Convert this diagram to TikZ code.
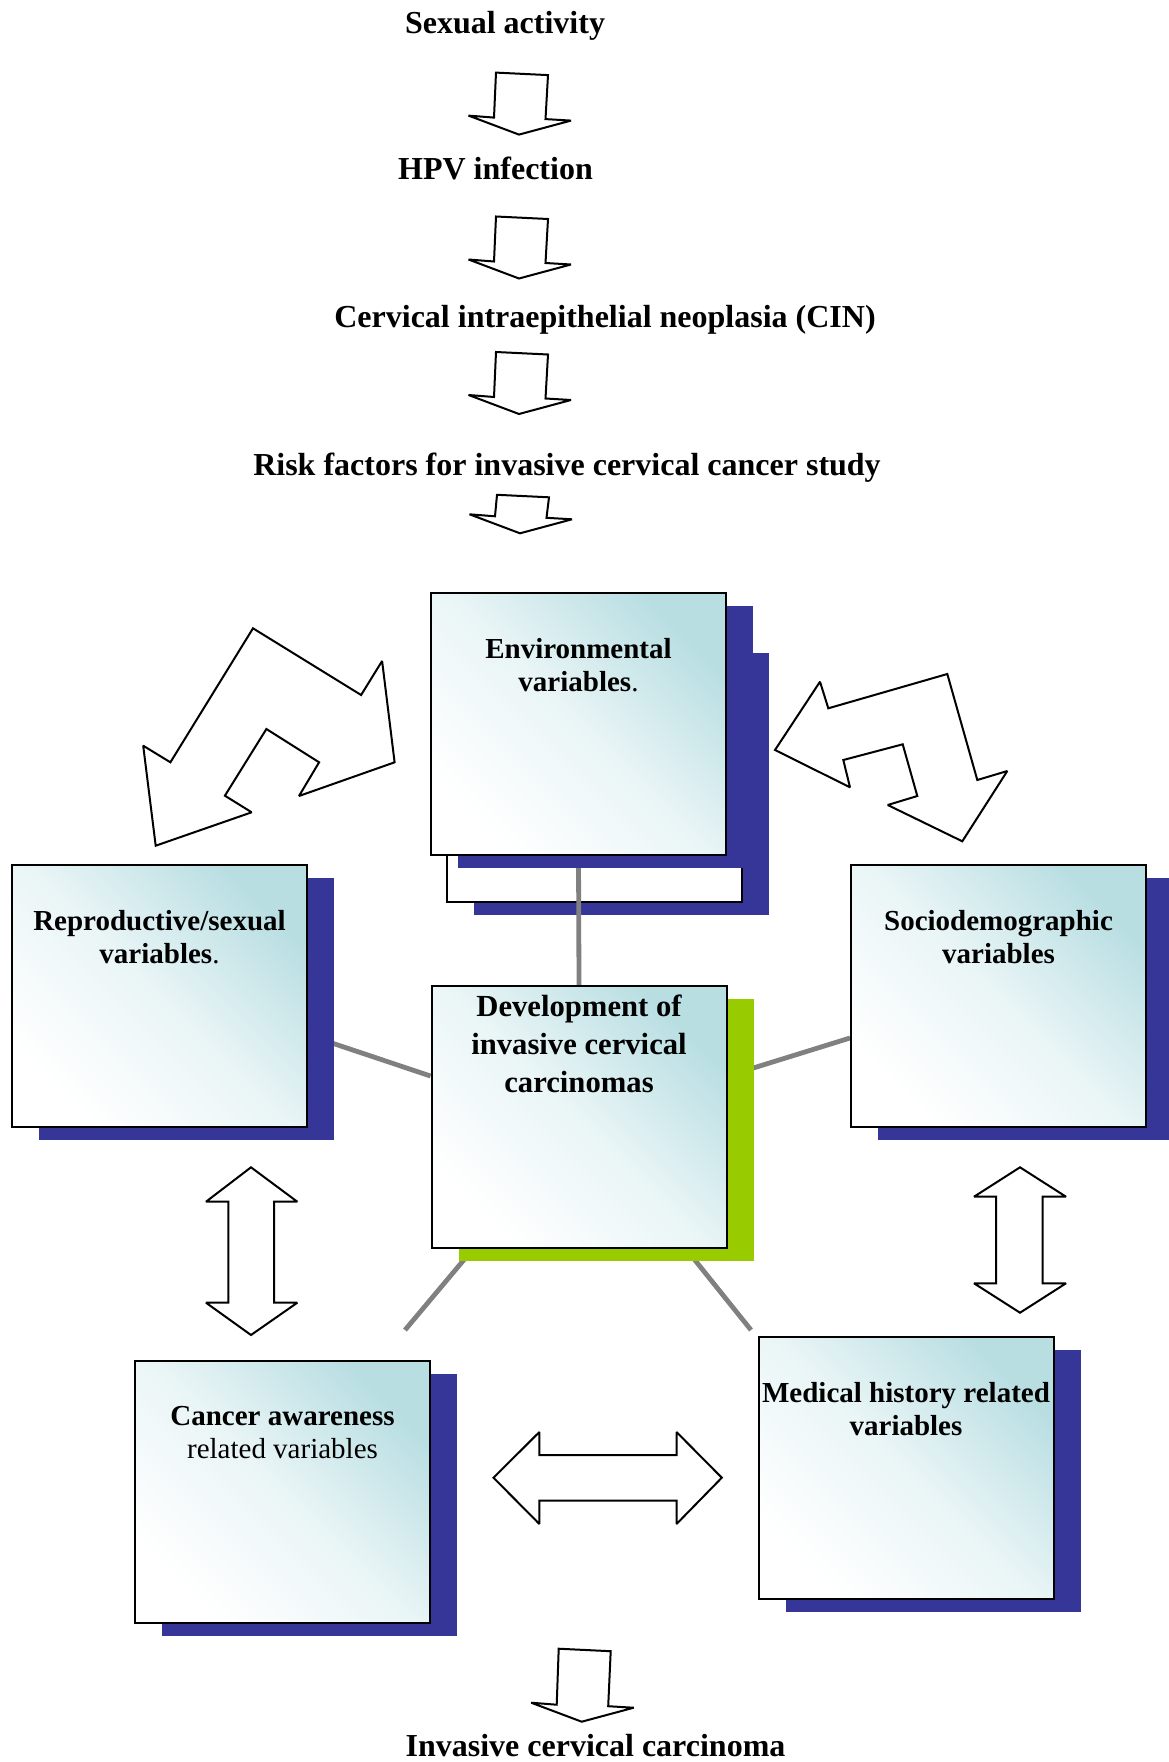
\documentclass[tikz,border=0pt]{standalone}
\usepackage{fontspec}
\setmainfont{Liberation Serif}
\usetikzlibrary{positioning,calc,shadows,backgrounds}

\definecolor{shadowblue}{RGB}{54,54,153}
\definecolor{shadowgreen}{RGB}{153,204,0}
\definecolor{boxteal}{RGB}{184,222,226}
\definecolor{linkgray}{RGB}{128,128,128}

% hollow down arrow: tip x, tip y, shaft length
\newcommand{\flowarrow}[3]{%
  \draw[blockarrow, shift={(#1,#2)}] (-50.5,-19) -- (-25,-17) -- (-23,-#3)
    -- (29,-#3+2.5) -- (26.5,-15.5) -- (52,-14) -- (0,0) -- cycle;}

\tikzset{
  title/.style={font=\fontsize{24}{28}\selectfont\bfseries, anchor=base, inner sep=0pt},
  blockarrow/.style={draw=black, fill=white, line width=1.5pt, line join=miter, miter limit=1.6},
  varbox/.style={draw=black, line width=1.5pt, anchor=north west, inner sep=0pt,
    minimum width=221.25pt, minimum height=196.5pt,
    top color=boxteal, bottom color=white, middle color=boxteal!30!white,
    shading angle=-45,
    drop shadow={shadow xshift=20.25pt, shadow yshift=-9.75pt, fill=#1, opacity=1}},
  varbox/.default=shadowblue,
  vartext/.style={font=\fontsize{21.75}{24.75}\selectfont\bfseries, align=center,
    anchor=north, inner sep=0pt},
  link/.style={draw=linkgray, line width=3.6pt},
}

\begin{document}
\begin{tikzpicture}[x=0.75pt, y=-0.75pt]
\useasboundingbox (0,0) rectangle (1168,1762);

% the chain of events
\node[title] (sexual) at (505,34) {Sexual activity};
\node[title] (hpv) at (495.5,179.5) {HPV infection};
\node[title] (cin) at (605,327) {Cervical intraepithelial neoplasia (CIN)};
\node[title] (risk) at (567,475) {Risk factors for invasive cervical cancer study};
\node[title] (invasive) at (595.5,1756) {Invasive cervical carcinoma};

\flowarrow{519}{134.6}{62}
\flowarrow{519}{278.5}{62}
\flowarrow{519}{414}{62}
\flowarrow{520}{533.3}{38.5}
\flowarrow{581.7}{1721.7}{73}

% the groups of variables
\node[varbox] (env) at (430,592) {};
\node[varbox] (repro) at (11,864) {};
\node[varbox] (socio) at (850,864) {};
\node[varbox=shadowgreen] (dev) at (430.5,985) {};
\node[varbox] (aware) at (134,1360) {};
\node[varbox] (history) at (757.5,1336) {};

\node[vartext] (envlbl) at ([yshift=-34.5pt]env.north) {Environmental\\variables\textmd{.}};
\node[vartext] (reprolbl) at ([yshift=-34.5pt]repro.north) {Reproductive/sexual\\variables\textmd{.}};
\node[vartext] (sociolbl) at ([yshift=-34.5pt]socio.north) {Sociodemographic\\variables};
\node[vartext, font=\fontsize{23}{28.3}\selectfont\bfseries] (devlbl)
  at ([yshift=-7.5pt]dev.north) {Development of\\invasive cervical\\carcinomas};
\node[vartext] (awarelbl) at ([yshift=-34.5pt]aware.north) {Cancer awareness\\\textmd{related variables}};
\node[vartext] (historylbl) at ([yshift=-34.5pt]history.north) {Medical history related\\variables};

\coordinate (toaware) at (405,1330);
\coordinate (tohistory) at (751,1330);

\begin{scope}[on background layer]
  \node[varbox, top color=white, bottom color=white, middle color=white] (envback) at (446,639) {};
  \draw[link] (env.south) -- (dev.north);
  \draw[link] ($(repro.east)+(0,39)$) -- ($(dev.west)+(0,-41)$);
  \draw[link] ($(dev.east)+(0,-41)$) -- ($(socio.west)+(0,42)$);
  \draw[link] ($(dev.south)+(-106,0)$) -- (toaware);
  \draw[link] ($(dev.south)+(107,0)$) -- (tohistory);
\end{scope}

% two-way arrows between the groups
\draw[blockarrow] (253,628.3) -- (361.1,695) -- (382.1,661) -- (394.6,762.3) -- (299,796)
  -- (319.1,762.3) -- (266.4,729) -- (224.9,795.7) -- (251.7,812.3) -- (155.7,845.7)
  -- (143.2,745.7) -- (170.4,762.3) -- cycle;
\draw[blockarrow] (947.3,674) -- (977.3,780) -- (1007.3,771) -- (962.3,841.3) -- (887.7,805)
  -- (917.3,796) -- (902.7,744.3) -- (843.3,760) -- (850,787.3) -- (775,750)
  -- (820,681.7) -- (828.3,708.3) -- cycle;
\draw[blockarrow] (251,1167.3) -- (297.3,1201.7) -- (274,1201.7) -- (274,1302.7) -- (297.3,1302.7)
  -- (251,1335) -- (206,1302.7) -- (228.3,1302.7) -- (228.3,1201.7) -- (206,1201.7) -- cycle;
\draw[blockarrow] (1020,1167.3) -- (1066,1196.7) -- (1042.7,1196.7) -- (1042.7,1283.3) -- (1066,1283.3)
  -- (1020,1312.7) -- (974,1283.3) -- (996,1283.3) -- (996,1196.7) -- (974,1196.7) -- cycle;
\draw[blockarrow] (493.5,1477.7) -- (539.4,1432) -- (539.4,1455) -- (676.5,1455) -- (676.5,1432)
  -- (721.8,1477.7) -- (676.5,1524) -- (676.5,1500.7) -- (539.4,1500.7) -- (539.4,1524) -- cycle;
\end{tikzpicture}
\end{document}
